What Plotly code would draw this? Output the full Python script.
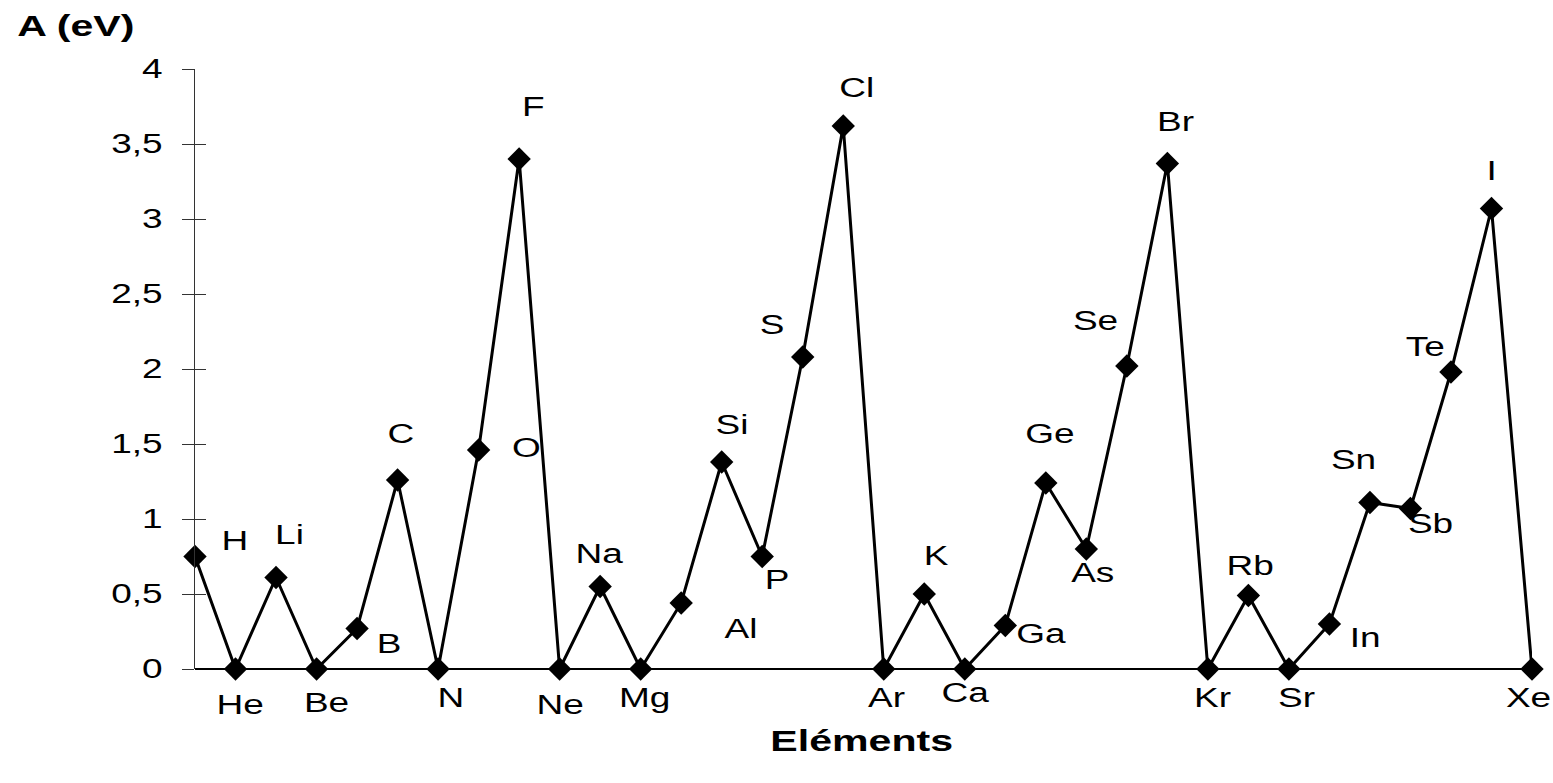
import plotly.graph_objects as go

elements = ["H", "He", "Li", "Be", "B", "C", "N", "O", "F", "Ne",
            "Na", "Mg", "Al", "Si", "P", "S", "Cl", "Ar",
            "K", "Ca", "Ga", "Ge", "As", "Se", "Br", "Kr",
            "Rb", "Sr", "In", "Sn", "Sb", "Te", "I", "Xe"]
affinity = [0.75, 0.0, 0.61, 0.0, 0.27, 1.26, 0.0, 1.46, 3.40, 0.0,
            0.55, 0.0, 0.44, 1.38, 0.75, 2.08, 3.62, 0.0,
            0.50, 0.0, 0.29, 1.24, 0.80, 2.02, 3.37, 0.0,
            0.49, 0.0, 0.30, 1.11, 1.07, 1.98, 3.07, 0.0]
y_ticks = [0, 0.5, 1, 1.5, 2, 2.5, 3, 3.5, 4]

# label placement offsets in pixels (dx right, dy down)
label_dx = [40, 5, 13, 10, 32, 3, 13, 48, 14, 1,
            -1, 4, 60, 10, 15, -31, 14, 3,
            12, 1, 36, 4, 7, -31, 8, 5,
            2, 8, 36, -16, 20, -25, 1, -4]
label_dy = [-16, 36, -43, 34, 15, -46, 29, -2, -52, 36,
            -33, 29, 26, -37, 23, -32, -38, 29,
            -38, 24, 8, -49, 24, -45, -42, 29,
            -30, 29, 14, -43, 15, -25, -38, 29]

FONT = "Liberation Sans, Arial"

fig = go.Figure()
fig.add_trace(go.Scatter(
    x=elements, y=affinity, mode="lines+markers",
    line=dict(color="black", width=3),
    marker=dict(symbol="diamond", size=18, color="black"),
    cliponaxis=False, showlegend=False,
))
fig.add_trace(go.Scatter(x=elements, y=affinity, yaxis="y2", mode="none",
                         showlegend=False, hoverinfo="skip"))

for el, v, dx, dy in zip(elements, affinity, label_dx, label_dy):
    fig.add_annotation(x=el, y=v, text=el, showarrow=False,
                       xshift=dx, yshift=-dy,
                       xanchor="center", yanchor="middle",
                       font=dict(family=FONT, size=27, color="black"))

fig.add_annotation(xref="paper", yref="paper", x=0, y=1, xshift=-119, yshift=44,
                   text="<b>A (eV)</b>", showarrow=False,
                   xanchor="center", yanchor="middle",
                   font=dict(family=FONT, size=30, color="black"))
fig.add_annotation(xref="paper", yref="paper", x=0.5, y=0, xshift=-2, yshift=-71,
                   text="<b>Eléments</b>", showarrow=False,
                   xanchor="center", yanchor="middle",
                   font=dict(family=FONT, size=30, color="black"))

fig.update_layout(
    width=1553, height=783,
    margin=dict(l=195, r=21, t=69, b=114),
    paper_bgcolor="white", plot_bgcolor="white",
    separators=",.",
    font=dict(family=FONT, size=27, color="black"),
    xaxis=dict(type="category", range=[0, 33], showgrid=False, showticklabels=False,
               ticks="", showline=False, zeroline=False),
    yaxis=dict(range=[0, 4], tickvals=y_ticks, ticks="outside", ticklen=12,
               tickcolor="#333", tickwidth=1, showline=True, linecolor="#333",
               linewidth=1, showgrid=False, zeroline=True, zerolinecolor="black",
               zerolinewidth=2, ticklabelstandoff=14,
               tickfont=dict(family=FONT, size=27)),
    yaxis2=dict(range=[0, 4], tickvals=y_ticks, ticks="inside", ticklen=11,
                tickcolor="#333", tickwidth=1, overlaying="y", side="left",
                showticklabels=False, showgrid=False, showline=False, zeroline=False),
)

# widen the glyphs horizontally (the reference text is drawn stretched)
post = """
(function(){
  document.body.style.margin = '0';
  document.body.style.overflow = 'hidden';
  var SX = 1.37;
  function widen(t){
    if (t.getAttribute('data-wide')) return;
    var cx = parseFloat(t.getAttribute('x')) || 0;
    var base = t.getAttribute('transform') || '';
    t.setAttribute('transform', base + ' translate(' + cx + ',0) scale(' + SX + ',1) translate(' + (-cx) + ',0)');
    t.setAttribute('data-wide', '1');
  }
  function run(){
    document.querySelectorAll('text.annotation-text').forEach(widen);
    document.querySelectorAll('.yaxislayer-above text').forEach(widen);
  }
  run();
  setTimeout(run, 50);
})();
"""

fig.write_html("out.html", post_script=post, config={"displayModeBar": False})
